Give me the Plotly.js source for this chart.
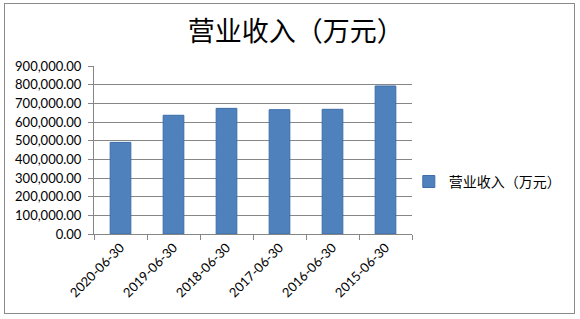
<!DOCTYPE html>
<html>
<head>
<meta charset="utf-8">
<script src="https://cdn.plot.ly/plotly-3.0.1.min.js"></script>
<style>
html,body{margin:0;padding:0;background:#fff;}
#wrap{position:relative;width:580px;height:319px;}
#chart{width:580px;height:319px;}
#frame{position:absolute;left:4px;top:3px;width:571px;height:311px;border:1px solid #8a8a8a;pointer-events:none;box-sizing:border-box;}
</style>
</head>
<body>
<div id="wrap"><div id="chart"></div><div id="frame"></div></div>
<script>
var categories = ["2020-06-30","2019-06-30","2018-06-30","2017-06-30","2016-06-30","2015-06-30"];
var revenue = [491000, 636000, 673000, 666000, 668000, 793000];
var seriesName = "营业收入（万元）";
var chartTitle = "营业收入（万元）";

var trace = {
  type: "bar",
  x: categories,
  y: revenue,
  name: seriesName,
  showlegend: true,
  marker: {color: "#4F81BD", line: {color: "#3D6DA8", width: 1}},
  hoverinfo: "x+y"
};

var layout = {
  width: 580, height: 319,
  margin: {l: 94, r: 168, t: 66, b: 85},
  paper_bgcolor: "#ffffff",
  plot_bgcolor: "#ffffff",
  bargap: 0.61,
  title: {text: chartTitle, x: 0.51, xanchor: "center", y: 0.9, yanchor: "middle",
          font: {family: "Noto Sans CJK SC", size: 27, color: "#000"}},
  font: {family: "Lato, 'Noto Sans CJK SC'", color: "#000"},
  xaxis: {
    type: "category",
    tickangle: -45,
    tickfont: {family: "Lato", size: 13, color: "#000"},
    showline: true, linecolor: "#868686", linewidth: 1,
    ticks: "outside", ticklen: 5, tickcolor: "#868686",
    tickson: "boundaries",
    showgrid: false,
    fixedrange: true
  },
  yaxis: {
    range: [0, 900000],
    dtick: 100000,
    tickformat: ",.2f",
    tickfont: {family: "Lato", size: 13, color: "#000"},
    ticklabelstandoff: 4,
    showline: true, linecolor: "#868686", linewidth: 1,
    ticks: "outside", ticklen: 5, tickcolor: "#868686",
    showgrid: true, gridcolor: "#868686", gridwidth: 1,
    zeroline: false,
    fixedrange: true
  },
  showlegend: true,
  legend: {
    x: 0.99, xanchor: "left", y: 0.31, yanchor: "middle",
    font: {family: "Noto Sans CJK SC", size: 14, color: "#000"},
    itemwidth: 30,
    bgcolor: "rgba(0,0,0,0)"
  }
};

Plotly.newPlot("chart", [trace], layout, {displayModeBar: false, staticPlot: true});
</script>
</body>
</html>
